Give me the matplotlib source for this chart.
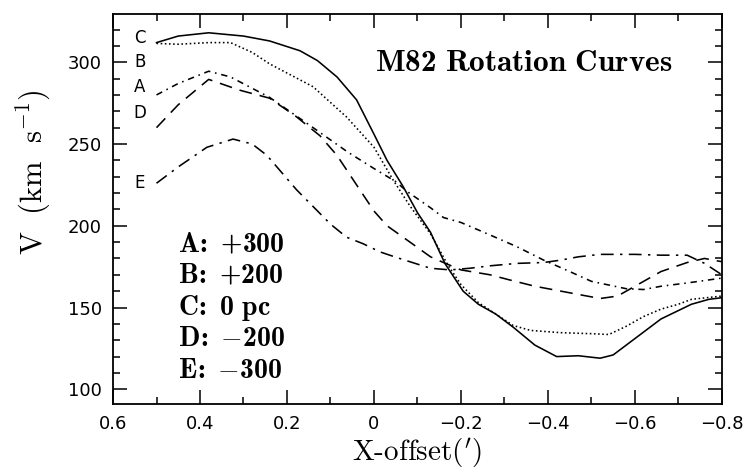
import matplotlib
matplotlib.use("Agg")
import matplotlib.pyplot as plt
from matplotlib.ticker import MultipleLocator

plt.rcParams["font.family"] = "DejaVu Sans"
plt.rcParams["mathtext.fontset"] = "custom"
plt.rcParams["mathtext.rm"] = "cmr10"
plt.rcParams["mathtext.bf"] = "cmb10"
plt.rcParams["mathtext.it"] = "cmmi10"
plt.rcParams["mathtext.fallback"] = "cm"

# curve C: 0 pc (solid)
xc = [0.5, 0.45, 0.38, 0.3, 0.24, 0.17, 0.13, 0.085, 0.04, 0.0, -0.03, -0.067, -0.1, -0.13,
      -0.163, -0.205, -0.24, -0.28, -0.32, -0.37, -0.42, -0.47, -0.52, -0.55, -0.6, -0.66,
      -0.73, -0.77, -0.8]
yc = [312, 316, 318, 316, 313, 307, 301, 291, 277, 256, 240, 224, 208, 196,
      177, 160, 152, 146, 138, 127, 120, 120.5, 119, 121, 131, 143,
      152, 155, 156]

# curve B: +200 (dotted)
xb = [0.5, 0.45, 0.38, 0.33, 0.28, 0.24, 0.14, 0.063, 0.0, -0.044, -0.083, -0.13, -0.17,
      -0.2, -0.24, -0.28, -0.32, -0.36, -0.43, -0.5, -0.54, -0.58, -0.62, -0.66, -0.7,
      -0.73, -0.8]
yb = [311.5, 311, 312, 312, 306, 299, 285, 266.5, 248, 228, 212, 195, 176,
      164, 153, 146, 139, 136, 134.6, 134, 133.5, 138.5, 144.5, 149, 152,
      155, 157]

# curve A: +300 (dash-dot)
xa = [0.5, 0.45, 0.38, 0.33, 0.24, 0.14, 0.06, 0.0, -0.05, -0.076, -0.13, -0.16, -0.2,
      -0.27, -0.33, -0.39, -0.45, -0.5, -0.58, -0.62, -0.66, -0.72, -0.8]
ya = [280, 287, 294.5, 291, 278.5, 260, 245, 235, 227, 221, 211, 205, 202,
      194, 187, 179, 172, 166, 161.5, 161, 163, 165, 168]

# curve D: -200 (dashed)
xd = [0.5, 0.45, 0.38, 0.31, 0.24, 0.18, 0.124, 0.085, 0.045, 0.0, -0.03, -0.067, -0.13,
      -0.16, -0.2, -0.267, -0.31, -0.37, -0.43, -0.52, -0.56, -0.6, -0.66, -0.72, -0.76, -0.8]
yd = [260, 274, 289.5, 283, 278, 267, 255, 243, 227, 209, 200, 193, 181,
      177.5, 173, 170, 167, 163, 160, 155.5, 157, 163, 172, 177.5, 180, 178]

# curve E: -300 (long dash-dot)
xe = [0.5, 0.45, 0.384, 0.324, 0.28, 0.246, 0.178, 0.1, 0.063, 0.025, -0.014, -0.053,
      -0.13, -0.175, -0.22, -0.267, -0.33, -0.39, -0.43, -0.47, -0.52, -0.6, -0.66,
      -0.72, -0.76, -0.8]
ye = [226, 236, 248, 253, 250, 243, 222, 201, 193, 189, 184, 180.5,
      174, 173, 174, 175.5, 177, 177.5, 179, 181, 182.5, 182.5, 182,
      182, 177, 170]

curve_tags = ["C", "B", "A", "D", "E"]
tag_y = [315, 300, 285, 269, 226]
legend_lines = [r"$\mathbf{A\!:\ {+}300}$", r"$\mathbf{B\!:\ {+}200}$", r"$\mathbf{C\!:\ 0\ pc}$",
                r"$\mathbf{D\!:\ {-}200}$", r"$\mathbf{E\!:\ {-}300}$"]

fig = plt.figure(figsize=(7.45, 4.74), dpi=100)
ax = fig.add_axes([0.1517, 0.1477, 0.8173, 0.8228])

lw = 1.15
ax.plot(xc, yc, color="black", lw=lw, linestyle="-")
ax.plot(xb, yb, color="black", lw=lw, linestyle=(0, (1, 1.6)))
ax.plot(xa, ya, color="black", lw=lw, linestyle=(0, (4, 3, 1, 3)))
ax.plot(xd, yd, color="black", lw=lw, linestyle=(0, (8, 5)))
ax.plot(xe, ye, color="black", lw=lw, linestyle=(0, (8, 4, 1.5, 4)))

for tag, ty in zip(curve_tags, tag_y):
    ax.text(0.538, ty, tag, ha="center", va="center", fontsize=12)

ax.text(-0.345, 300, r"$\mathbf{M82\ Rotation\ Curves}$", ha="center", va="center", fontsize=22.5)

for i, s in enumerate(legend_lines):
    ax.text(0.45, 183.7 - i * 19.15, s, ha="left", va="baseline", fontsize=20)

ax.set_xlim(0.6, -0.8)
ax.set_ylim(91, 329.5)
ax.xaxis.set_major_locator(MultipleLocator(0.2))
ax.xaxis.set_minor_locator(MultipleLocator(0.1))
ax.yaxis.set_major_locator(MultipleLocator(50))
ax.yaxis.set_minor_locator(MultipleLocator(10))
ax.tick_params(which="both", direction="in", top=True, right=True, width=1.1, labelsize=13)
ax.tick_params(which="major", length=10, pad=8)
ax.tick_params(which="minor", length=5)
ax.xaxis.set_major_formatter(plt.FuncFormatter(
    lambda v, p: "0" if abs(v) < 1e-9 else f"{v:.1f}".replace("-", "\u2212")))
for sp in ax.spines.values():
    sp.set_linewidth(1.3)

ax.set_xlabel(r"$\mathrm{X\text{-}offset(}^{\prime}\mathrm{)}$", fontsize=21, labelpad=2)
fig.text(0.045, 0.637, r"$\mathrm{V\ \ (km\ \ s^{-1})}$", fontsize=22,
         rotation=90, ha="center", va="center")

fig.savefig("out.png", dpi=100)
